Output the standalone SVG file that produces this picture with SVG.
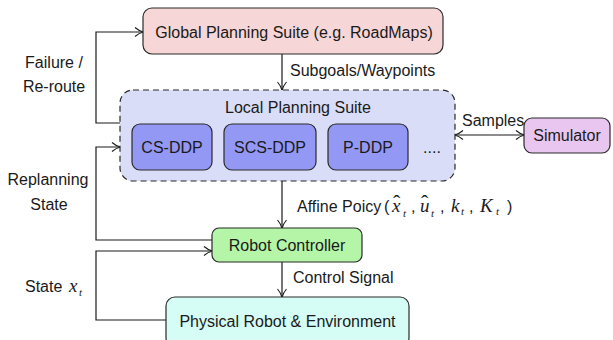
<svg xmlns="http://www.w3.org/2000/svg" width="613" height="340" viewBox="0 0 613 340">
<defs>
<style>
.t{font-family:"Liberation Sans",Arial,sans-serif;font-size:16px;fill:#1a1a1a}
.m{font-family:"Liberation Serif","Times New Roman",serif;font-style:italic;fill:#1a1a1a}
.h{font-family:"Liberation Serif","Times New Roman",serif;fill:#1a1a1a;font-size:22px}
.box{stroke:#2a2a2a;stroke-width:1.2}
.ln{fill:none;stroke:#1a1a1a;stroke-width:1.2}
</style>
<marker id="ah" markerWidth="12" markerHeight="12" refX="9" refY="6" orient="auto-start-reverse" markerUnits="userSpaceOnUse">
<path d="M1,1.5 Q5,5 9.5,6 Q5,7 1,10.5" fill="none" stroke="#1a1a1a" stroke-width="1.1"/>
</marker>
</defs>
<rect width="613" height="340" fill="#ffffff"/>
<g id="connectors">
<line class="ln" x1="282" y1="54" x2="282" y2="90" marker-end="url(#ah)"/>
<polyline class="ln" points="120,123 96,123 96,32 143,32" marker-end="url(#ah)"/>
<polyline class="ln" points="212,240 96,240 96,147 120,147" marker-end="url(#ah)"/>
<line class="ln" x1="455" y1="135" x2="524" y2="135" marker-start="url(#ah)" marker-end="url(#ah)"/>
<line class="ln" x1="282" y1="181" x2="282" y2="228" marker-end="url(#ah)"/>
<polyline class="ln" points="166,320 96,320 96,251 212,251" marker-end="url(#ah)"/>
<line class="ln" x1="282" y1="262" x2="282" y2="297" marker-end="url(#ah)"/>
<text class="t" x="290" y="76">Subgoals/Waypoints</text>
<text class="t" x="54" y="68" text-anchor="middle">Failure /</text>
<text class="t" x="54" y="92" text-anchor="middle">Re-route</text>
<text class="t" x="48" y="185" text-anchor="middle">Replanning</text>
<text class="t" x="49" y="210" text-anchor="middle">State</text>
<text class="t" x="25" y="292">State</text>
<text class="m" x="69" y="292" font-size="19">x</text>
<text class="m" x="79" y="296" font-size="11">t</text>
<text class="t" x="462" y="126">Samples</text>
<text class="t" x="297" y="212">Affine Poicy</text>
<text class="t" x="384" y="212">(</text>
<text class="m" x="392" y="212" font-size="19">x</text>
<text class="h" x="393" y="210">ˆ</text>
<text class="m" x="403" y="217" font-size="11">t</text>
<text class="t" x="411" y="212">,</text>
<text class="m" x="420" y="212" font-size="19">u</text>
<text class="h" x="421" y="210">ˆ</text>
<text class="m" x="431" y="217" font-size="11">t</text>
<text class="t" x="440" y="212">,</text>
<text class="m" x="451" y="212" font-size="19">k</text>
<text class="m" x="461" y="215" font-size="11">t</text>
<text class="t" x="469" y="212">,</text>
<text class="m" x="480" y="212" font-size="19">K</text>
<text class="m" x="496" y="215" font-size="11">t</text>
<text class="t" x="507" y="212">)</text>
<text class="t" x="293" y="283">Control Signal</text>
</g>
<g id="global">
<rect class="box" x="143" y="8" width="300" height="46" rx="9" fill="#f6d6d6"/>
<text class="t" x="294" y="38" text-anchor="middle">Global Planning Suite (e.g. RoadMaps)</text>
</g>
<g id="local">
<rect x="120" y="90" width="335" height="91" rx="13" fill="#d9ddf8" stroke="#2a2a2a" stroke-width="1.2" stroke-dasharray="6,4"/>
<text class="t" x="298" y="113" text-anchor="middle">Local Planning Suite</text>
<text class="t" x="432" y="153" text-anchor="middle">....</text>
</g>
<g id="csddp">
<rect class="box" x="132" y="124" width="80" height="46" rx="8" fill="#9498f5"/>
<text class="t" x="172" y="153" text-anchor="middle">CS-DDP</text>
</g>
<g id="scsddp">
<rect class="box" x="224" y="124" width="92" height="46" rx="8" fill="#9498f5"/>
<text class="t" x="270" y="153" text-anchor="middle">SCS-DDP</text>
</g>
<g id="pddp">
<rect class="box" x="328" y="124" width="80" height="46" rx="8" fill="#9498f5"/>
<text class="t" x="368" y="153" text-anchor="middle">P-DDP</text>
</g>
<g id="simulator">
<rect class="box" x="524" y="118" width="86" height="35" rx="8" fill="#e8c6f0"/>
<text class="t" x="567" y="141" text-anchor="middle">Simulator</text>
</g>
<g id="controller">
<rect class="box" x="212" y="228" width="150" height="34" rx="7" fill="#b4f5a8"/>
<text class="t" x="287" y="251" text-anchor="middle">Robot Controller</text>
</g>
<g id="physical">
<rect class="box" x="166" y="297" width="243" height="50" rx="9" fill="#d5fdf5"/>
<text class="t" x="287.5" y="327" text-anchor="middle">Physical Robot &amp; Environment</text>
</g>
</svg>
